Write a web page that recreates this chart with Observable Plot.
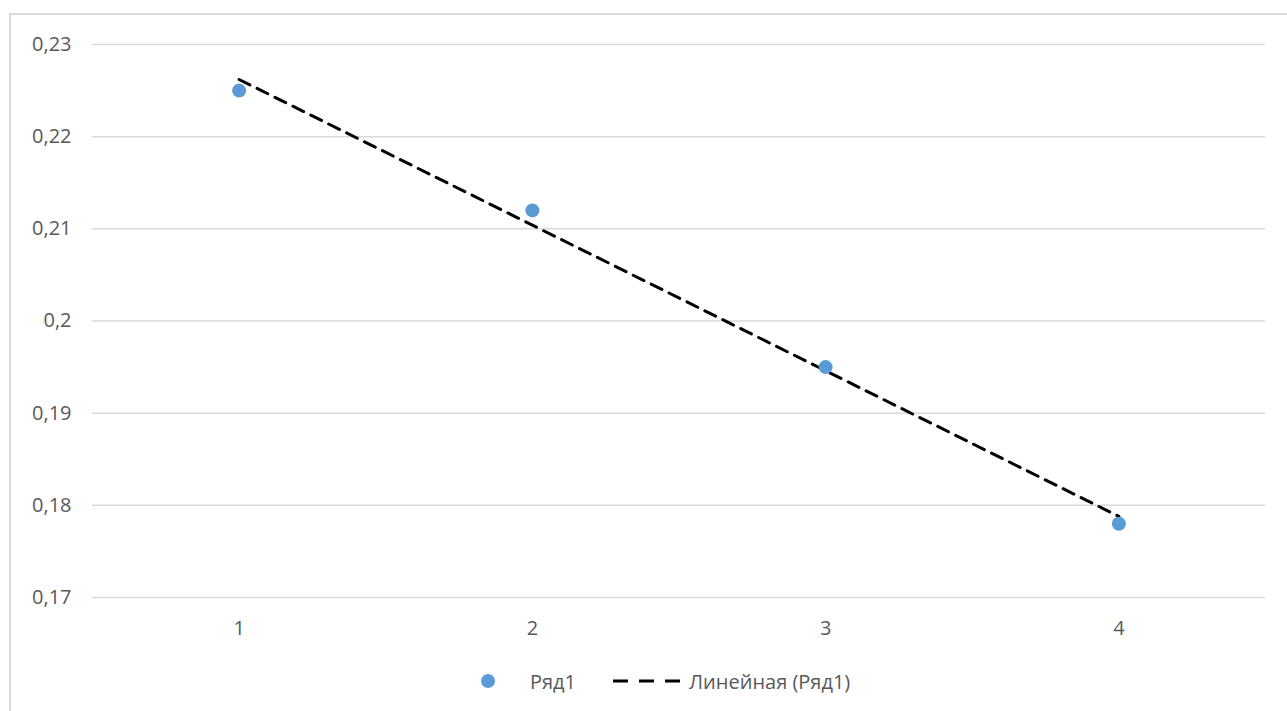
<!DOCTYPE html>
<html>
<head>
<meta charset="utf-8">
<script src="https://cdn.jsdelivr.net/npm/d3@7"></script>
<script src="https://cdn.jsdelivr.net/npm/@observablehq/plot@0.6"></script>
<style>
  html, body { margin: 0; padding: 0; background: #fff; }
  #wrap { position: relative; width: 1287px; height: 711px; overflow: hidden; font-family: "Open Sans", Lato, sans-serif; }
  #frame { position: absolute; left: 9px; top: 13px; right: -4px; bottom: -4px; border-left: 2px solid #d9d9d9; border-top: 2px solid #d9d9d9; }
  #chart { position: absolute; left: 0; top: 0; }
  #legend { position: absolute; top: 667px; left: 0; width: 1287px; height: 28px; font-size: 20px; color: #595959; }
  #legend .item { position: absolute; top: 0; height: 28px; display: flex; align-items: center; white-space: nowrap; }
  #legend svg { display: block; }
</style>
</head>
<body>
<div id="wrap">
  <div id="frame"></div>
  <div id="chart"></div>
  <div id="legend"></div>
</div>
<script>
// Series "Ряд1"
const xs = [1, 2, 3, 4];
const ys = [0.225, 0.212, 0.195, 0.178];
const seriesName = "Ряд1";
const trendName = "Линейная (Ряд1)";

// Axis ticks
const xTicks = [1, 2, 3, 4];
const yTicks = [0.17, 0.18, 0.19, 0.2, 0.21, 0.22, 0.23];

const pointColor = "#5B9BD5";
const textColor = "#595959";
const gridColor = "#d9d9d9";
const font = "'Open Sans', Lato, sans-serif";

const data = xs.map((x, i) => ({x, y: ys[i]}));
const commaFmt = d => String(d).replace(".", ",");

const chart = Plot.plot({
  width: 1287,
  height: 650,
  marginLeft: 92,
  marginRight: 22,
  marginTop: 44,
  marginBottom: 53,
  style: {fontFamily: font, fontSize: "20px", color: textColor, background: "transparent"},
  x: {domain: [0.5, 4.5]},
  y: {domain: [0.17, 0.23]},
  marks: [
    Plot.gridY(yTicks, {stroke: gridColor, strokeOpacity: 1, strokeWidth: 1.5}),
    Plot.axisY(yTicks, {tickSize: 0, tickPadding: 21, tickFormat: commaFmt, label: null, fill: textColor, fontSize: 20}),
    Plot.axisX(xTicks, {tickSize: 0, tickPadding: 23, tickFormat: d => String(d), label: null, fill: textColor, fontSize: 20}),
    Plot.linearRegressionY(data, {x: "x", y: "y", ci: 0, stroke: "black", strokeWidth: 3, strokeDasharray: "12,8"}),
    Plot.dot(data, {x: "x", y: "y", r: 7, fill: pointColor, stroke: "none"})
  ]
});
document.getElementById("chart").appendChild(chart);

// Legend below the plot
const legend = document.getElementById("legend");
legend.innerHTML = `
  <div class="item" style="left:480px">
    <svg width="16" height="16"><circle cx="8" cy="8" r="7" fill="${pointColor}"/></svg>
  </div>
  <div class="item" style="left:530px">${seriesName}</div>
  <div class="item" style="left:612px">
    <svg width="72" height="16"><line x1="1" y1="8" x2="70" y2="8" stroke="black" stroke-width="3" stroke-dasharray="15,11"/></svg>
  </div>
  <div class="item" style="left:689px">${trendName}</div>
`;
</script>
</body>
</html>
